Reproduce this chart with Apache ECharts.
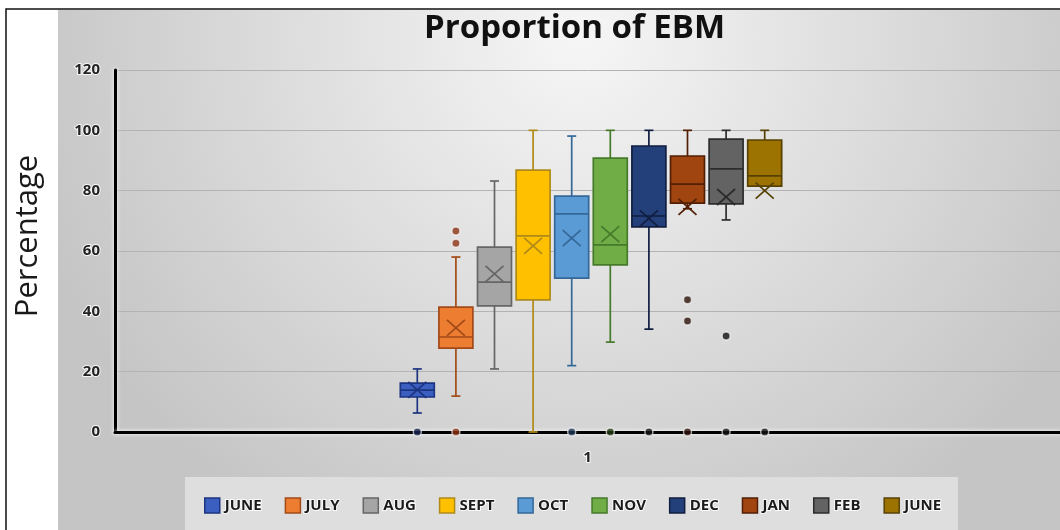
<!DOCTYPE html>
<html><head><meta charset="utf-8">
<script src="https://cdn.jsdelivr.net/npm/echarts@6/dist/echarts.min.js"></script>
<style>html,body{margin:0;padding:0;background:#fff}#c{width:1060px;height:530px}</style>
</head><body><div id="c"></div>
<script>
// ---------- data ----------
const months = ['JUNE','JULY','AUG','SEPT','OCT','NOV','DEC','JAN','FEB','JUNE'];
const categoryLabels = ['1'];
const whiskerMin = [6.3, 11.9, 20.9, 0, 22.0, 29.8, 34.1, 74.0, 70.3, 81.5];
const q1         = [11.6, 27.8, 41.8, 43.8, 51.0, 55.4, 68.0, 75.9, 75.6, 81.5];
const median     = [13.9, 31.5, 49.7, 65.0, 72.3, 62.0, 71.6, 82.2, 87.2, 84.9];
const q3         = [16.2, 41.4, 61.3, 86.8, 78.2, 90.8, 94.8, 91.5, 97.1, 96.8];
const whiskerMax = [20.9, 58.0, 83.2, 100, 98.1, 100, 100, 100, 100, 100];
const mean       = [14.0, 34.5, 52.4, 61.7, 64.3, 65.6, 70.8, 74.6, 77.9, 80.0];
const outliers   = [[0], [0, 62.6, 66.6], [], [], [0], [0], [0], [0, 36.8, 43.8], [0, 31.8], [0]];
const yMin = 0, yMax = 120, yInterval = 20;

// ---------- styles ----------
const fillColors = ['#3b5fc0','#ed7d31','#a5a5a5','#ffc000','#5b9bd5','#70ad47','#24407a','#a0450f','#636363','#9c7200'];
const edgeColors = ['#1d3580','#a24a18','#666666','#b08a18','#336898','#467a2b','#101e40','#521f05','#2c2c2c','#574204'];
const dotColors  = ['#14224e','#8a3314','#555555','#555555','#1c3552','#203a14','#111111','#2a1108','#111111','#111111'];

const key = i => months[i] + '#' + i;
const GRID_TOP = 70, GRID_H = 362;

function renderBox(params, api) {
  const i = api.value(0);
  const c = v => api.coord([i, v]);
  const pMin = c(api.value(1)), pQ1 = c(api.value(2)), pMed = c(api.value(3)),
        pQ3 = c(api.value(4)), pMax = c(api.value(5)), pMean = c(api.value(6));
  const band = api.size([1, 0])[0];
  const half = band * 0.44;
  const cap = 4.5, xs = 9, ys = 8;
  const xc = pMed[0];
  const st = {stroke: edgeColors[i], lineWidth: 1.7};
  return {type: 'group', children: [
    {type:'line', shape:{x1:xc, y1:pMax[1], x2:xc, y2:pQ3[1]}, style: st},
    {type:'line', shape:{x1:xc, y1:pQ1[1], x2:xc, y2:pMin[1]}, style: st},
    {type:'line', shape:{x1:xc-cap, y1:pMax[1], x2:xc+cap, y2:pMax[1]}, style: st},
    {type:'line', shape:{x1:xc-cap, y1:pMin[1], x2:xc+cap, y2:pMin[1]}, style: st},
    {type:'rect', shape:{x:xc-half, y:pQ3[1], width:2*half, height:pQ1[1]-pQ3[1]},
      style:{fill: fillColors[i], stroke: edgeColors[i], lineWidth: 1.7}},
    {type:'line', shape:{x1:xc-half, y1:pMed[1], x2:xc+half, y2:pMed[1]}, style: st},
    {type:'line', shape:{x1:xc-xs, y1:pMean[1]-ys, x2:xc+xs, y2:pMean[1]+ys}, style: st},
    {type:'line', shape:{x1:xc-xs, y1:pMean[1]+ys, x2:xc+xs, y2:pMean[1]-ys}, style: st}
  ]};
}

const outlierData = [];
outliers.forEach((arr, i) => arr.forEach(v => outlierData.push([i, v])));

const halo = {textBorderColor: 'rgba(255,255,255,0.85)', textBorderWidth: 2};

const chart = echarts.init(document.getElementById('c'));
chart.setOption({
  animation: false,
  title: {
    text: 'Proportion of EBM', left: 419, top: 7,
    textStyle: {fontFamily: 'Open Sans', fontWeight: 'bold', fontSize: 33, color: '#111'}
  },
  graphic: [
    {type:'rect', z:-100, shape:{x:58, y:10, width:1002, height:520},
      style:{fill: new echarts.graphic.RadialGradient(0.52, 0.05, 1.1, [
        {offset:0, color:'#f6f6f6'}, {offset:1, color:'#c5c5c5'}])}},
    {type:'rect', z:-99, shape:{x:185, y:477, width:773, height:53}, style:{fill:'#dedede'}},
    {type:'polyline', z:-98, shape:{points:[[6,530],[6,9],[1060,9]]}, style:{stroke:'#111', lineWidth:1.5, fill:null}},
    {type:'text', x:28, y:236, rotation: Math.PI/2,
      style:{text:'Percentage', fontFamily:'Open Sans', fontSize:31, fill:'#1a1a1a', align:'center', verticalAlign:'middle'}}
  ],
  legend: {
    left: 199, top: 492, itemWidth: 15, itemHeight: 15, itemGap: 22, icon: 'rect',
    formatter: name => name.split('#')[0],
    textStyle: Object.assign({fontFamily:'Open Sans', fontWeight:'bold', fontSize:15, color:'#1a1a1a'}, halo),
    data: months.map((m, i) => ({name: key(i), itemStyle:{color: fillColors[i], borderColor: edgeColors[i], borderWidth: 1.5}}))
  },
  grid: [
    {left: 115, right: -10, top: GRID_TOP, height: GRID_H},
    {left: 398, width: 386, top: GRID_TOP, height: GRID_H}
  ],
  xAxis: [
    {type:'category', gridIndex:0, data: categoryLabels,
      axisLine:{lineStyle:{color:'#000', width:3, shadowColor:'#fff', shadowBlur:4}},
      axisTick:{show:false},
      axisLabel: Object.assign({fontFamily:'Open Sans', fontWeight:'bold', fontSize:15, color:'#222', margin:18}, halo)},
    {type:'category', gridIndex:1, data: months.map((m, i) => String(i)), show:false}
  ],
  yAxis: [
    {type:'value', gridIndex:0, min:yMin, max:yMax, interval:yInterval,
      axisLine:{show:true, lineStyle:{color:'#000', width:3, shadowColor:'#fff', shadowBlur:4}},
      axisTick:{show:false},
      axisLabel: Object.assign({fontFamily:'Open Sans', fontWeight:'bold', fontSize:15, color:'#222', margin:15}, halo),
      splitLine:{lineStyle:{color:'#b3b3b3', width:1}}},
    {type:'value', gridIndex:1, min:yMin, max:yMax, interval:yInterval, show:false, splitLine:{show:false}}
  ],
  series: months.map((m, i) => ({
    type:'custom', name: key(i), xAxisIndex:1, yAxisIndex:1, z: 3,
    itemStyle:{color: fillColors[i]},
    data: [[i, whiskerMin[i], q1[i], median[i], q3[i], whiskerMax[i], mean[i]]],
    renderItem: renderBox
  })).concat([{
    type:'scatter', name:'outliers', xAxisIndex:1, yAxisIndex:1, z: 5,
    symbolSize: 8,
    itemStyle:{color: p => dotColors[p.value[0]], borderColor:'rgba(255,255,255,0.8)', borderWidth:1.5},
    data: outlierData
  }])
});
</script></body></html>
